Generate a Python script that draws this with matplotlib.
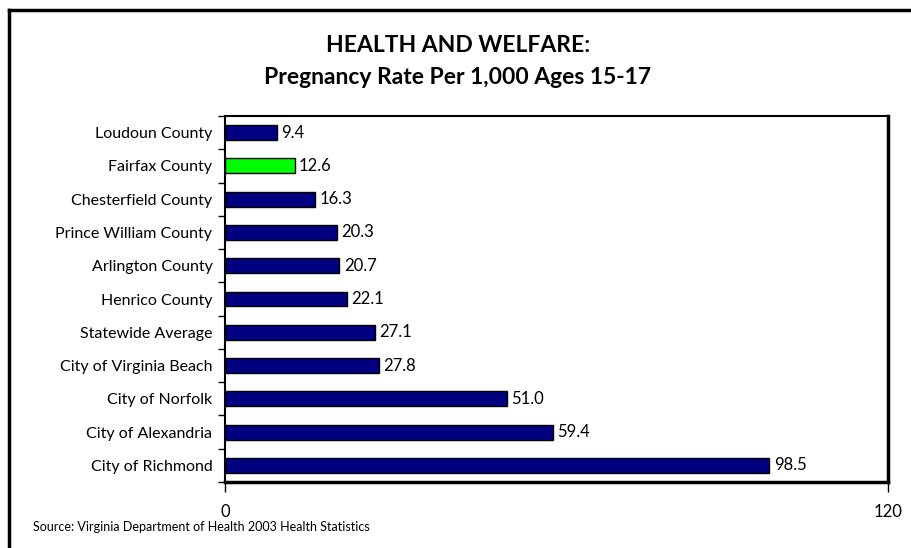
import matplotlib.pyplot as plt
from matplotlib.lines import Line2D

categories = ["Loudoun County", "Fairfax County", "Chesterfield County",
              "Prince William County", "Arlington County", "Henrico County",
              "Statewide Average", "City of Virginia Beach", "City of Norfolk",
              "City of Alexandria", "City of Richmond"]
rates = [9.4, 12.6, 16.3, 20.3, 20.7, 22.1, 27.1, 27.8, 51.0, 59.4, 98.5]
highlight = "Fairfax County"

plt.rcParams['font.family'] = ['Lato', 'DejaVu Sans']

fig = plt.figure(figsize=(9.12, 5.48), dpi=100)
ax = fig.add_axes([225 / 912, 1 - 482 / 548, 663 / 912, 366 / 548])

ypos = list(range(len(categories)))
colors = ['#00ff00' if c == highlight else '#000080' for c in categories]
ax.barh(ypos, rates, height=0.45, color=colors, edgecolor='black', linewidth=1)
for y, v in zip(ypos, rates):
    ax.text(v + 0.8, y, f"{v:.1f}", va='center', ha='left', fontsize=12)

ax.set_xlim(0, 120)
ax.set_ylim(len(categories) - 0.5, -0.5)
ax.set_xticks([0, 120])
ax.set_xticklabels(["0", "120"], fontsize=12)
ax.tick_params(axis='x', direction='out', length=7, width=1, pad=9)
ax.set_yticks(ypos)
ax.set_yticklabels(categories, fontsize=11.5)
ax.tick_params(axis='y', which='major', length=0, pad=9)
ax.set_yticks([i - 0.5 for i in range(len(categories) + 1)], minor=True)
ax.tick_params(axis='y', which='minor', direction='out', length=5, width=1)

ax.spines['left'].set_linewidth(1.5)
ax.spines['top'].set_linewidth(1.5)
ax.spines['right'].set_linewidth(2.5)
ax.spines['bottom'].set_linewidth(2.5)

fig.text(0.502, 1 - 46 / 548, "HEALTH AND WELFARE:", ha='center', va='center',
         fontsize=16.5, fontweight='bold')
fig.text(0.502, 1 - 77 / 548, "Pregnancy Rate Per 1,000 Ages 15-17", ha='center',
         va='center', fontsize=16.5, fontweight='bold')
fig.text(33 / 912, 1 - 527 / 548, "Source: Virginia Department of Health 2003 Health Statistics",
         ha='left', va='center', fontsize=9)

# outer frame (left and top edges only visible)
fig.add_artist(Line2D([9.5 / 912, 9.5 / 912], [0, 1 - 9.5 / 548], color='black',
                      linewidth=2.5, transform=fig.transFigure))
fig.add_artist(Line2D([9.5 / 912, 1], [1 - 9.5 / 548, 1 - 9.5 / 548], color='black',
                      linewidth=2.5, transform=fig.transFigure))

fig.savefig("out.png", dpi=100)
